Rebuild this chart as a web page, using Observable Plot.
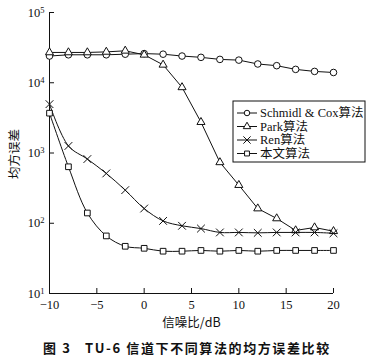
<!DOCTYPE html>
<html><head><meta charset="utf-8">
<script src="https://cdn.jsdelivr.net/npm/d3@7"></script>
<script src="https://cdn.jsdelivr.net/npm/@observablehq/plot@0.6"></script>
<style>
body{margin:0;background:#fff;}
#wrap{position:relative;width:375px;height:360px;}
#cap{position:absolute;left:43px;top:338px;white-space:pre;font-family:"Noto Sans CJK SC","Liberation Serif",serif;font-weight:bold;font-size:13px;letter-spacing:1.6px;color:#111;}
</style></head><body>
<div id="wrap"><div id="chart"></div><div id="cap"></div></div>
<script>
const snr = [-10,-8,-6,-4,-2,0,2,4,6,8,10,12,14,16,18,20];
const schmidl = [24000,25000,25000,25000,25500,26000,25500,24000,23000,21500,21000,18500,17500,15500,14500,14000];
const park = [27000,27000,27000,27500,28500,25000,18000,8600,2750,736,349,162,117,79,87,77];
const ren = [4960,1260,820,512,296,162,108,92,84,74,74,73,74,74,74,72];
const proposed = [3690,637,140,66,47,44,40,40,41,40,41,40,41,41,41,41];
const seriesNames = ["Schmidl & Cox算法","Park算法","Ren算法","本文算法"];
const symbols = ["circle","triangle","times","square"];
const curves = ["linear","linear","catmull-rom","catmull-rom"];
const yTicks = [10,100,1000,10000,100000];
const xTicks = [-10,-5,0,5,10,15,20];
const xLabel = "信噪比/dB";
const yLabel = "均方误差";
const caption = "图 3   TU-6 信道下不同算法的均方误差比较";

const allSeries = [schmidl, park, ren, proposed];
const rows = [];
allSeries.forEach((vals, si) => vals.forEach((v, i) => rows.push({x: snr[i], y: v, s: seriesNames[si]})));

const sizes = [3.3, 3.0, 3.6, 3.2];
const marks = [];
seriesNames.forEach((name, si) => {
  const d = rows.filter(r => r.s === name);
  marks.push(Plot.line(d, {x: "x", y: "y", stroke: "#111", strokeWidth: 1, curve: curves[si]}));
  marks.push(Plot.dot(d, {x: "x", y: "y", symbol: () => symbols[si], r: sizes[si], stroke: "#111", fill: si===2 ? "none" : "white", strokeWidth: 1}));
});

const chart = Plot.plot({
  width: 375, height: 336,
  marginLeft: 49, marginRight: 42, marginTop: 12, marginBottom: 43,
  style: {fontFamily: "'Liberation Serif', serif", fontSize: "12.5px", color: "#111", background: "white"},
  x: {domain: [-10, 20]},
  y: {type: "log", domain: [10, 100000]},
  symbol: {domain: symbols, range: symbols},
  marks: [
    Plot.axisX({ticks: xTicks, tickSize: -5, tickPadding: 12, label: null, tickFormat: d => d < 0 ? "−" + Math.abs(d) : String(d)}),
    Plot.axisY({ticks: yTicks, tickSize: -5, tickPadding: 10, label: null, tickFormat: d => "10"}),
    Plot.ruleY([10], {stroke: "#111"}),
    Plot.ruleX([-10], {stroke: "#111"}),
    ...marks,
    Plot.text([xLabel], {frameAnchor: "bottom", dy: 33, fontFamily: "'Noto Sans CJK SC', serif", fontSize: 12.5})
  ]
});
document.getElementById("chart").appendChild(chart);
document.getElementById("cap").textContent = caption;

const svg = d3.select(chart);
// superscript exponents on y tick labels
svg.selectAll("g[aria-label='y-axis tick label'] text").each(function(d, i) {
  const t = d3.select(this);
  const exp = String(Math.round(Math.log10(yTicks[i])));
  t.append("tspan").attr("dy", "-0.45em").attr("font-size", "8.5px").text(exp);
});

// y-axis title
svg.append("text").attr("transform", "translate(15,154) rotate(-90)").attr("text-anchor", "middle")
  .attr("dy", "0.35em").attr("font-size", 12.5).attr("font-family", "'Noto Sans CJK SC', serif").attr("fill", "#111").text(yLabel);

// legend
const lg = svg.append("g").attr("transform", "translate(233,101)").attr("text-anchor", "start");
lg.append("rect").attr("width", 132).attr("height", 61).attr("fill", "white").attr("stroke", "#111").attr("stroke-width", 1);
const symGen = {circle: d3.symbolCircle, triangle: d3.symbolTriangle, times: d3.symbolTimes, square: d3.symbolSquare};
seriesNames.forEach((name, i) => {
  const yy = 12 + i * 13.5;
  lg.append("line").attr("x1", 4).attr("x2", 24).attr("y1", yy).attr("y2", yy).attr("stroke", "#111");
  const area = symbols[i] === "times" ? 36 : 24;
  lg.append("path").attr("d", d3.symbol(symGen[symbols[i]], area)()).attr("transform", `translate(14,${yy})`)
    .attr("fill", i === 2 ? "none" : "white").attr("stroke", "#111");
  lg.append("text").attr("x", 27).attr("y", yy).attr("dy", "0.35em").attr("font-size", 12.5).attr("text-anchor", "start")
    .attr("font-family", "'Liberation Serif','Noto Sans CJK SC', serif").attr("fill", "#111").text(name);
});
</script>
</body></html>
